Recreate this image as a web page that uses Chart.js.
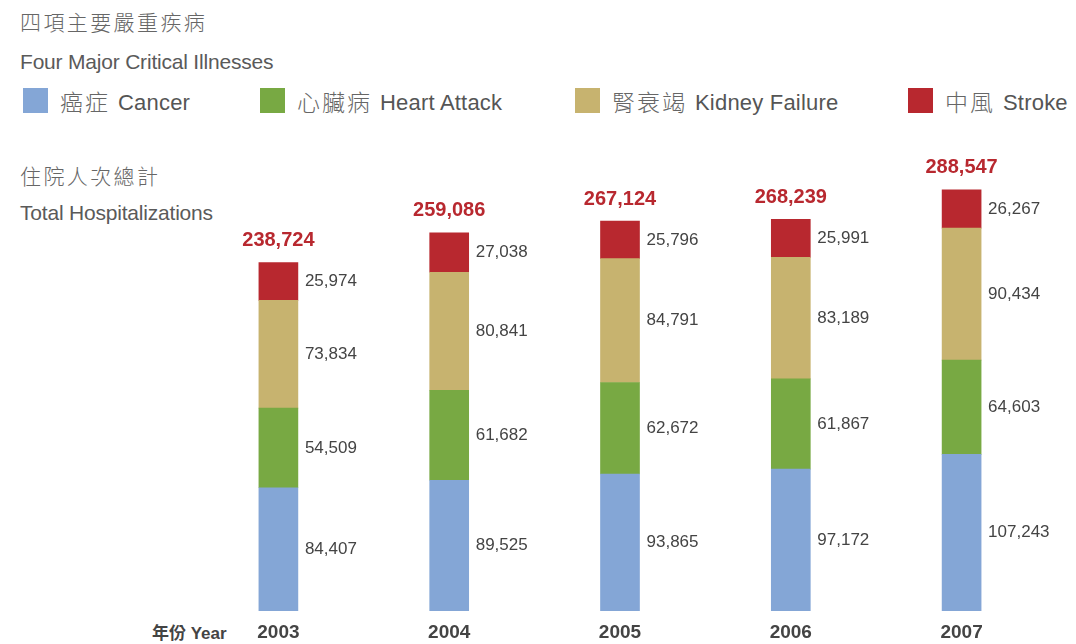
<!DOCTYPE html>
<html>
<head>
<meta charset="utf-8">
<script src="https://cdn.jsdelivr.net/npm/chart.js@4.4.1/dist/chart.umd.min.js"></script>
<style>
  html, body { margin: 0; padding: 0; background: #fff; }
  body { width: 1076px; height: 644px; position: relative; overflow: hidden;
         font-family: "Liberation Sans", "Noto Sans CJK TC", sans-serif; color: #555; }
  #c { position: absolute; left: 0; top: 0; }
  .t { position: absolute; white-space: nowrap; line-height: 1; }
  .zh { font-family: "Noto Sans CJK TC", sans-serif; font-weight: 300; letter-spacing: 2.4px; color: #666; font-size: 21px; }
  .en { font-size: 21px; color: #5a5a5a; letter-spacing: -0.2px; }
  .lg { position: absolute; top: 88px; height: 25px; display: flex; align-items: center; white-space: nowrap; font-size: 22px; color: #555; line-height: 1; }
  .lg .sw { width: 25px; height: 25px; margin-right: 12px; flex: none; }
  .lg .cj { font-family: "Noto Sans CJK TC", sans-serif; font-weight: 300; font-size: 23px; letter-spacing: 2px; margin-right: 8px; line-height: 25px; position: relative; top: 1px; color: #666; }
  .lg .la { position: relative; top: 2px; letter-spacing: 0.2px; }
</style>
</head>
<body>
<div class="t zh" style="left:20px; top:11px;">四項主要嚴重疾病</div>
<div class="t en" style="left:20px; top:51px;">Four Major Critical Illnesses</div>
<div id="legend"></div>
<div class="t zh" style="left:20px; top:165px;">住院人次總計</div>
<div class="t en" style="left:20px; top:202px;">Total Hospitalizations</div>
<div class="t" style="left:152px; top:623px; font-weight:bold; font-size:17px; color:#444;"><span style="font-family:'Noto Sans CJK TC';font-weight:bold;">年份</span> Year</div>
<canvas id="c" width="1076" height="644"></canvas>
<script>
const years = ['2003', '2004', '2005', '2006', '2007'];
const cancer = [84407, 89525, 93865, 97172, 107243];
const heartAttack = [54509, 61682, 62672, 61867, 64603];
const kidneyFailure = [73834, 80841, 84791, 83189, 90434];
const stroke = [25974, 27038, 25796, 25991, 26267];
const totals = [238724, 259086, 267124, 268239, 288547];

const seriesNamesZh = ['癌症', '心臟病', '腎衰竭', '中風'];
const seriesNamesEn = ['Cancer', 'Heart Attack', 'Kidney Failure', 'Stroke'];
const colors = ['#84A6D6', '#78A943', '#C7B36F', '#B8282F'];
const legendX = [23, 260, 575, 908];

const lg = document.getElementById('legend');
seriesNamesZh.forEach((n, i) => {
  const d = document.createElement('div');
  d.className = 'lg';
  d.style.left = legendX[i] + 'px';
  d.innerHTML = '<span class="sw" style="background:' + colors[i] + '"></span><span class="cj">' + n + '</span><span class="la">' + seriesNamesEn[i] + '</span>';
  lg.appendChild(d);
});

const fmt = v => v.toLocaleString('en-US');

const labelPlugin = {
  id: 'labels',
  afterDatasetsDraw(chart) {
    const ctx = chart.ctx;
    ctx.save();
    ctx.textBaseline = 'middle';
    chart.data.datasets.forEach((ds, i) => {
      const meta = chart.getDatasetMeta(i);
      meta.data.forEach((el, j) => {
        ctx.font = '17px "Liberation Sans", sans-serif';
        ctx.fillStyle = '#444';
        ctx.textAlign = 'left';
        ctx.fillText(fmt(ds.data[j]), el.x + el.width / 2 + 7, (el.y + el.base) / 2);
      });
    });
    const top = chart.getDatasetMeta(chart.data.datasets.length - 1);
    top.data.forEach((el, j) => {
      ctx.font = 'bold 20px "Liberation Sans", sans-serif';
      ctx.fillStyle = '#B8282F';
      ctx.textAlign = 'center';
      ctx.fillText(fmt(totals[j]), el.x, el.y - 22);
    });
    // year labels along the category axis
    const xs = chart.scales.x;
    ctx.font = 'bold 19px "Liberation Sans", sans-serif';
    ctx.fillStyle = '#444';
    ctx.textAlign = 'center';
    years.forEach((y, j) => {
      ctx.fillText(y, xs.getPixelForValue(j), chart.chartArea.bottom + 22);
    });
    ctx.restore();
  }
};

const series = [cancer, heartAttack, kidneyFailure, stroke];
new Chart(document.getElementById('c'), {
  type: 'bar',
  data: {
    labels: years,
    datasets: series.map((s, i) => ({
      label: seriesNamesZh[i] + ' ' + seriesNamesEn[i],
      data: s,
      backgroundColor: colors[i],
      borderWidth: 0,
      barThickness: 39
    }))
  },
  options: {
    responsive: false,
    animation: false,
    devicePixelRatio: 1,
    layout: { padding: { left: 193, right: 29, top: 173, bottom: 33 } },
    plugins: { legend: { display: false }, tooltip: { enabled: false } },
    scales: {
      x: {
        stacked: true,
        offset: true,
        display: false
      },
      y: {
        stacked: true,
        display: false,
        min: 0,
        max: 300000
      }
    }
  },
  plugins: [labelPlugin]
});
</script>
</body>
</html>
